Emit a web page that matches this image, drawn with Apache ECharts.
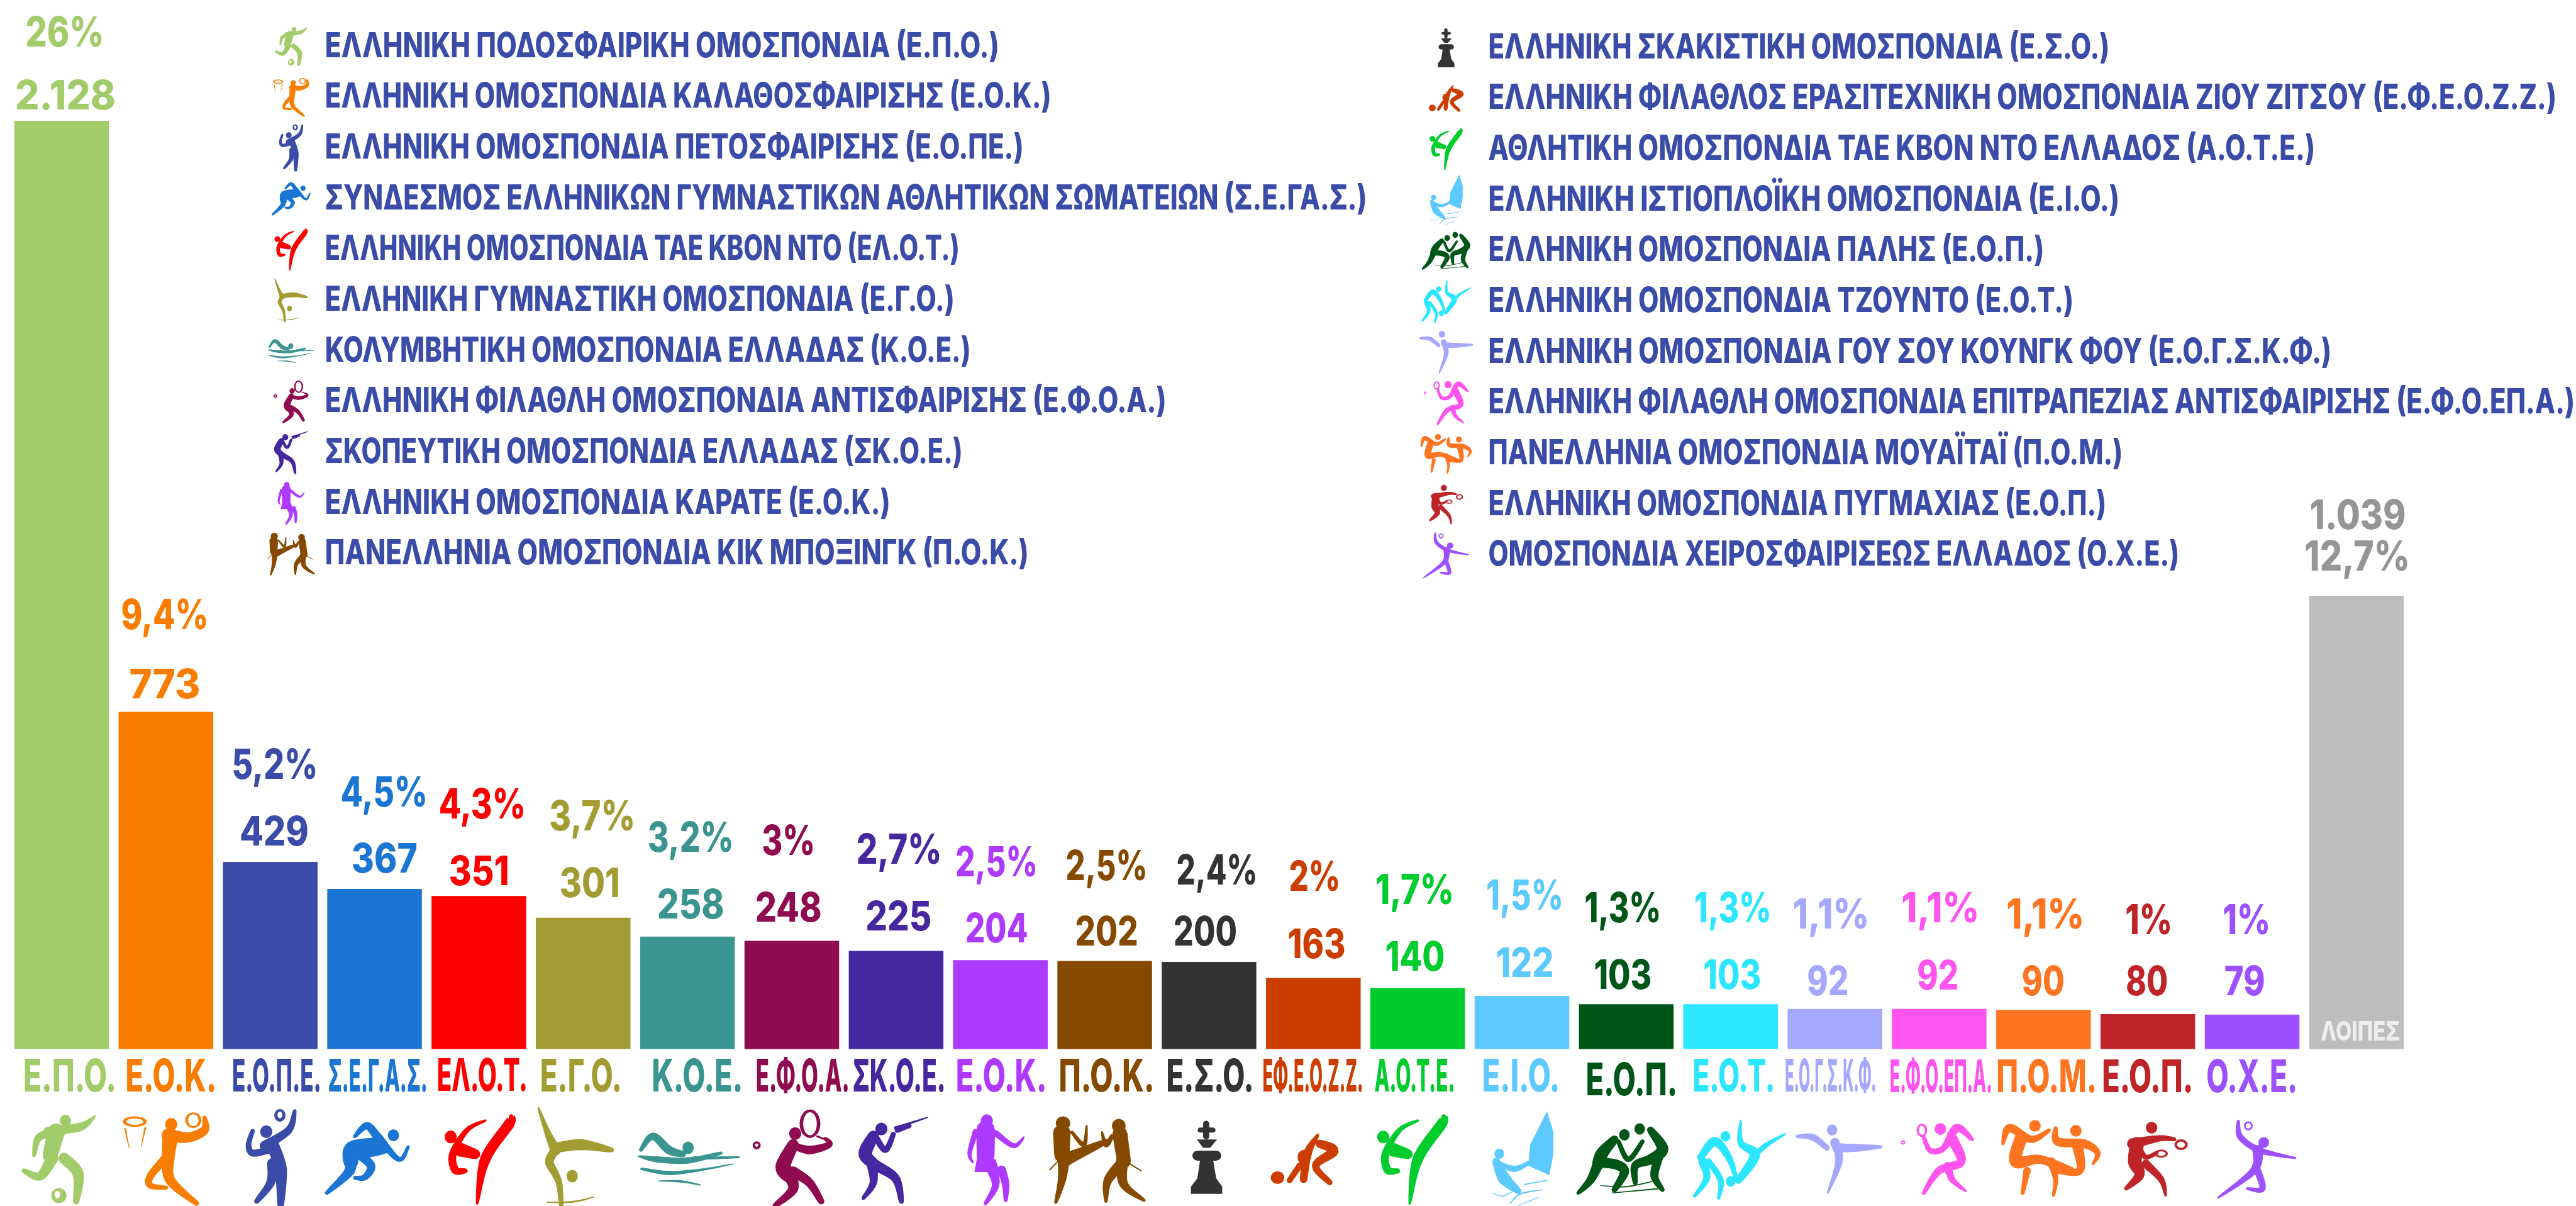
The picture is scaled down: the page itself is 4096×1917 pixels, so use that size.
<!DOCTYPE html>
<html><head><meta charset="utf-8">
<style>html,body{margin:0;padding:0;background:#fff}#c{width:4096px;height:1917px}</style>
<script src="https://cdn.jsdelivr.net/npm/echarts@6/dist/echarts.min.js"></script>
</head><body><div id="c"></div>
<script>
const categories=["Ε.Π.Ο.","Ε.Ο.Κ.","Ε.Ο.Π.Ε.","Σ.Ε.Γ.Α.Σ.","ΕΛ.Ο.Τ.","Ε.Γ.Ο.","Κ.Ο.Ε.","Ε.Φ.Ο.Α.","ΣΚ.Ο.Ε.","Ε.Ο.Κ.","Π.Ο.Κ.","Ε.Σ.Ο.","ΕΦ.Ε.Ο.Ζ.Ζ.","Α.Ο.Τ.Ε.","Ε.Ι.Ο.","Ε.Ο.Π.","Ε.Ο.Τ.","Ε.Ο.Γ.Σ.Κ.Φ.","Ε.Φ.Ο.ΕΠ.Α.","Π.Ο.Μ.","Ε.Ο.Π.","Ο.Χ.Ε.","ΛΟΙΠΕΣ"];
const valuesNum=[2128,773,429,367,351,301,258,248,225,204,202,200,163,140,122,103,103,92,92,90,80,79,1039];
const valueText=["2.128","773","429","367","351","301","258","248","225","204","202","200","163","140","122","103","103","92","92","90","80","79","1.039"];
const percentText=["26%","9,4%","5,2%","4,5%","4,3%","3,7%","3,2%","3%","2,7%","2,5%","2,5%","2,4%","2%","1,7%","1,5%","1,3%","1,3%","1,1%","1,1%","1,1%","1%","1%","12,7%"];
const colors=["#A2CB69","#F97D00","#3B4BA8","#1A76D2","#FF0000","#A29C32","#3A9490","#8F0B50","#4527A0","#AE3AFF","#854A00","#333333","#CC3D00","#00CC2E","#5CC9FF","#005518","#2CE6FF","#A5A8FF","#FF55EE","#FF7420","#BF2429","#9C50FF","#BDBDBD"];
const legendLeft=["ΕΛΛΗΝΙΚΗ ΠΟΔΟΣΦΑΙΡΙΚΗ ΟΜΟΣΠΟΝΔΙΑ (Ε.Π.Ο.)","ΕΛΛΗΝΙΚΗ ΟΜΟΣΠΟΝΔΙΑ ΚΑΛΑΘΟΣΦΑΙΡΙΣΗΣ (Ε.Ο.Κ.)","ΕΛΛΗΝΙΚΗ ΟΜΟΣΠΟΝΔΙΑ ΠΕΤΟΣΦΑΙΡΙΣΗΣ (Ε.Ο.ΠΕ.)","ΣΥΝΔΕΣΜΟΣ ΕΛΛΗΝΙΚΩΝ ΓΥΜΝΑΣΤΙΚΩΝ ΑΘΛΗΤΙΚΩΝ ΣΩΜΑΤΕΙΩΝ (Σ.Ε.ΓΑ.Σ.)","ΕΛΛΗΝΙΚΗ ΟΜΟΣΠΟΝΔΙΑ ΤΑΕ ΚΒΟΝ ΝΤΟ (ΕΛ.Ο.Τ.)","ΕΛΛΗΝΙΚΗ ΓΥΜΝΑΣΤΙΚΗ ΟΜΟΣΠΟΝΔΙΑ (Ε.Γ.Ο.)","ΚΟΛΥΜΒΗΤΙΚΗ ΟΜΟΣΠΟΝΔΙΑ ΕΛΛΑΔΑΣ (Κ.Ο.Ε.)","ΕΛΛΗΝΙΚΗ ΦΙΛΑΘΛΗ ΟΜΟΣΠΟΝΔΙΑ ΑΝΤΙΣΦΑΙΡΙΣΗΣ (Ε.Φ.Ο.Α.)","ΣΚΟΠΕΥΤΙΚΗ ΟΜΟΣΠΟΝΔΙΑ ΕΛΛΑΔΑΣ (ΣΚ.Ο.Ε.)","ΕΛΛΗΝΙΚΗ ΟΜΟΣΠΟΝΔΙΑ ΚΑΡΑΤΕ (Ε.Ο.Κ.)","ΠΑΝΕΛΛΗΝΙΑ ΟΜΟΣΠΟΝΔΙΑ ΚΙΚ ΜΠΟΞΙΝΓΚ (Π.Ο.Κ.)"];
const legendRight=["ΕΛΛΗΝΙΚΗ ΣΚΑΚΙΣΤΙΚΗ ΟΜΟΣΠΟΝΔΙΑ (Ε.Σ.Ο.)","ΕΛΛΗΝΙΚΗ ΦΙΛΑΘΛΟΣ ΕΡΑΣΙΤΕΧΝΙΚΗ ΟΜΟΣΠΟΝΔΙΑ ΖΙΟΥ ΖΙΤΣΟΥ (Ε.Φ.Ε.Ο.Ζ.Ζ.)","ΑΘΛΗΤΙΚΗ ΟΜΟΣΠΟΝΔΙΑ ΤΑΕ ΚΒΟΝ ΝΤΟ ΕΛΛΑΔΟΣ (Α.Ο.Τ.Ε.)","ΕΛΛΗΝΙΚΗ ΙΣΤΙΟΠΛΟΪΚΗ ΟΜΟΣΠΟΝΔΙΑ (Ε.Ι.Ο.)","ΕΛΛΗΝΙΚΗ ΟΜΟΣΠΟΝΔΙΑ ΠΑΛΗΣ (Ε.Ο.Π.)","ΕΛΛΗΝΙΚΗ ΟΜΟΣΠΟΝΔΙΑ ΤΖΟΥΝΤΟ (Ε.Ο.Τ.)","ΕΛΛΗΝΙΚΗ ΟΜΟΣΠΟΝΔΙΑ ΓΟΥ ΣΟΥ ΚΟΥΝΓΚ ΦΟΥ (Ε.Ο.Γ.Σ.Κ.Φ.)","ΕΛΛΗΝΙΚΗ ΦΙΛΑΘΛΗ ΟΜΟΣΠΟΝΔΙΑ ΕΠΙΤΡΑΠΕΖΙΑΣ ΑΝΤΙΣΦΑΙΡΙΣΗΣ (Ε.Φ.Ο.ΕΠ.Α.)","ΠΑΝΕΛΛΗΝΙΑ ΟΜΟΣΠΟΝΔΙΑ ΜΟΥΑΪΤΑΪ (Π.Ο.Μ.)","ΕΛΛΗΝΙΚΗ ΟΜΟΣΠΟΝΔΙΑ ΠΥΓΜΑΧΙΑΣ (Ε.Ο.Π.)","ΟΜΟΣΠΟΝΔΙΑ ΧΕΙΡΟΣΦΑΙΡΙΣΕΩΣ ΕΛΛΑΔΟΣ (Ο.Χ.Ε.)"];

// ---------- layout (reference pixels) ----------
const S=4096/4097, FONT='Inter', WEIGHT=800, PXU=0.6936, BASE=1668, PITCH=165.9, FIRST=98, TEXT_NUDGE=3;
const legendEndsL=[1589,1672,1628,2174,1526,1518,1544,1855,1531,1416,1636];
const legendEndsR=[3355,4066,3682,3371,3251,3298,3708,4095,3376,3350,3466];
const legendIconH=[62,62,75,53,67,70,38,68,68,68,68,62,42,67,81,60,68,68,70,63,63,73];
// value cx, value cy, value w, pct cx, pct cy, pct w
const labelBox=[[104,151.5,160,103,51.5,125],[262,1088,113,262,977,139],[436,1322,110,437,1215,137],[611.5,1365,105,611,1259,138],[762,1385,96,767,1278,138],[938,1404,96,942,1297,137],[1098.5,1438,107,1098.5,1331,137],[1254,1443,106,1254,1336,85],[1429,1457,105,1430,1350,136],[1585,1476,100,1585,1370,131],[1760,1481,100,1760,1376,130],[1917,1481,101,1935.5,1384,129],[2094,1501,92,2091,1394,82],[2250.5,1521,95,2250,1415,125],[2425,1531,92,2425,1424,123],[2581,1550,92,2581,1444,122],[2755,1550,92,2756,1444,123],[2907,1560,66,2912,1454,122],[3082,1551,66,3086,1444,124],[3249.5,1560,68,3253,1454,124],[3414.5,1560,67,3417.5,1463,75],[3570,1560,65,3573,1463,76],[3750,819,153,3749,884,168]];
// category label cx, cy, w
const catBox=[[111,1711,148],[272,1711,145],[440,1711,142],[601,1711,158],[767,1710,144],[924,1711,130],[1109,1711,145],[1276.5,1711,149],[1430,1711,148],[1592.5,1711,145],[1760,1711,152],[1924.5,1711,139],[2088,1711,160],[2250,1711,128],[2419,1711,124],[2595,1717,146],[2757.5,1711,131],[2911.5,1711,145],[3087,1712,163],[3255,1712,160],[3415.5,1712,145],[3581.5,1712,145],[3754,1638,126]];
const refCx=i=>FIRST+PITCH*i, refTop=v=>BASE-PXU*v;

// ---------- pictograms, traced in zoom-crop coordinates ----------
// e: ellipse  w: white ellipse  r: tapered limb (x,y,width...)  p: polygon
const A=[0,1500,1.568,3], B=[1000,1500,1.568,3], C=[2000,1500,1.568,3], D=[3000,800,1.429,1.404];
const taekwondo=[['e',1124,923,15,30],['r',1275,825,7,1270,860,17,1210,1030,17,1190,1240,4],['r',1210,845,4,1165,890,8,1130,1000,12,1135,1080,13,1160,1085,8],['r',1150,985,22,1185,1005,16]];
const icons=[
 {src:A,p:[['e',163,845,14,28],['r',120,895,14,200,875,14,238,822,2],['r',130,900,14,95,930,12,85,1010,6],['r',140,900,28,125,1010,24],['r',130,1025,20,100,1110,14,60,1085,8],['r',160,1025,18,195,1100,18,190,1230,10],['e',147,1203,19,36],['w',143,1198,7,18]]},
 {src:A,p:[['e',336,850,30,25],['w',336,850,21,15],['r',312,885,3,322,975,1],['r',362,880,3,352,970,1],['e',427,863,15,30],['e',482,843,20,37],['w',482,843,13,28],['r',510,830,6,510,890,14,470,925,16,420,915,22],['r',425,920,26,420,1020,20,425,1130,16,490,1240,8],['r',410,1030,14,375,1110,12,375,1155,10,415,1165,6]]},
 {src:A,p:[['e',664,898,15,30],['e',698,820,14,30],['w',698,818,6,16],['r',735,800,6,720,890,12,660,965,16],['r',630,895,7,620,960,9,630,1000,11,670,985,12],['r',680,960,20,700,1080,20,700,1250,10],['r',680,1050,18,675,1140,14,640,1230,8]]},
 {src:A,p:[['e',981,915,14,28],['r',885,920,6,915,870,12,945,930,14,995,1030,8,1018,970,5],['r',940,950,16,880,980,26,875,1040,24],['r',872,1030,22,870,1090,16,815,1190,6],['r',890,1000,14,925,1060,14,910,1115,10,885,1118,6],['r',880,1000,26,960,985,12]]},
 {src:A,p:taekwondo},
 {src:A,p:[['r',1343,785,3,1365,900,10,1385,985,18],['r',1385,975,16,1450,960,18,1525,985,8],['r',1385,985,14,1370,1040,14,1385,1100,12,1395,1150,10,1400,1250,7],['e',1427,1110,14,30],['r',1365,1235,2,1430,1232,3,1480,1210,2]]},
 {src:B,p:[['e',148,975,14,30],['r',30,985,6,60,920,12,100,985,14,135,1005,10],['r',25,1015,3,70,1030,10,150,1035,10,230,1000,5],['r',160,1025,6,275,1020,3],['r',32,1075,4,100,1095,7,180,1080,4,260,1052,1.5],['r',75,1133,1.5,130,1135,4,178,1152,2]]},
 {src:B,p:[['e',319,963,10,19],['w',319,962,4,8],['e',452,860,26,68],['w',452,860,17,55],['r',470,920,3,490,935,3],['e',415,907,15,30],['r',410,960,18,385,1060,24,395,1100,24],['r',405,960,10,450,985,14,500,960,10,490,930,5],['r',395,1090,22,410,1170,16,365,1250,8],['r',410,1090,18,450,1140,14,480,1230,10]]},
 {src:B,p:[['e',630,885,15,30],['r',665,880,5,745,830,2],['r',670,890,9,700,870,7],['r',610,920,18,590,1000,22,610,1050,18,665,1120,14,680,1230,8],['r',605,1040,18,610,1140,12,585,1215,6],['r',615,920,10,640,985,10,660,910,8]]},
 {src:B,p:[['e',893,847,15,32],['r',890,890,30,890,1020,28],['r',865,900,10,850,1000,7,858,1045,3],['r',915,905,10,960,965,8,985,925,3],['p',868,1030,915,1030,925,1090,862,1090],['r',900,1050,20,915,1150,12,890,1240,6],['r',930,1080,14,940,1150,12,940,1225,6]]},
 {src:B,p:[['e',1083,858,18,33],['e',1222,870,17,33],['r',1080,905,28,1080,1010,24],['r',1105,900,5,1135,960,8,1142,870,3],['r',1090,1030,22,1190,945,8],['r',1085,1030,20,1080,1130,13,1065,1235,5],['r',1225,910,24,1235,1040,22],['r',1235,1040,20,1195,1130,14,1190,1230,5],['r',1230,1040,20,1235,1150,14,1285,1225,5],['r',1205,920,7,1190,960,9,1180,900,3],['r',1075,1030,2,1050,1080,2],['r',1240,1040,2,1278,1085,2]]},
 {src:B,p:[['r',1440,860,10,1440,920,10],['r',1425,890,8,1457,890,8],['p',1417,935,1467,935,1450,975,1432,975],['r',1418,1012,16,1465,1012,16],['p',1425,1030,1457,1030,1465,1120,1480,1160,1480,1195,1402,1195,1402,1160,1418,1120]]},
 {src:C,p:[['e',50,1117,17,30],['r',150,915,5,125,1000,14,115,1125,12],['r',155,955,13,190,990,16,145,1060,12,180,1140,9],['e',115,1020,15,35],['r',105,1060,10,80,1130,9]]},
 {src:[PITCH*9,1500,1.568,3,-10],p:taekwondo},
 {src:C,p:[['p',722,800,738,900,738,1000,728,1105,675,1060,680,960],['e',603,1003,12,24],['r',595,1040,12,615,1120,20,650,1180,10],['r',595,1045,8,640,1075,10,678,1045,6],['r',665,1150,2,722,1130,1.5],['r',630,1240,1.5,655,1195,2.5,710,1175,1.5],['r',585,1190,1,610,1205,1.5,635,1185,1],['r',650,1250,1,700,1212,1.5]]},
 {src:C,p:[['e',915,913,13,27],['e',953,885,13,27],['r',890,935,13,860,1000,20,850,1050,20],['r',850,1045,16,895,1055,16,915,1090,15,890,1175,9],['r',850,1050,18,830,1130,13,800,1190,6],['r',980,890,11,1010,980,19,980,1030,16,942,1060,13,942,1140,8],['r',1000,1020,15,990,1110,13,1010,1175,7],['r',900,945,7,925,1030,9,960,945,7],['r',855,1155,1,920,1160,2,985,1135,1.5],['r',885,1190,1.5,1000,1170,2]]},
 {src:C,p:[['e',1167,920,12,25],['e',1180,1135,12,25],['r',1105,1020,11,1140,945,15,1175,1020,11,1195,1130,6],['r',1110,1040,14,1120,1120,11,1090,1205,5],['r',1125,1040,10,1155,1130,10,1150,1215,5],['r',1205,845,3,1205,950,10,1240,1010,17,1200,1130,11],['r',1240,1010,10,1270,960,8,1315,910,3]]},
 {src:C,p:[['e',1433,890,13,26],['r',1345,920,5,1385,925,11,1420,975,9],['r',1440,950,15,1450,1040,12,1422,1190,3],['r',1450,975,15,1500,975,12,1555,970,5]]},
 {src:D,p:[['e',38,1427,5,5],['w',38,1427,2,2],['e',81,1400,12,15],['w',81,1400,7,10],['e',123,1397,13,13],['r',85,1415,6,100,1445,9,130,1440,10,160,1395,14,195,1420,6],['r',150,1420,18,170,1470,14,120,1490,12,85,1540,6],['r',140,1480,14,150,1510,10,180,1535,4]]},
 {src:D,p:[['e',338,1390,13,13],['e',431,1401,13,13],['r',265,1430,5,280,1395,14,330,1420,12,370,1400,6],['r',305,1420,20,295,1470,20,350,1465,14,420,1490,12],['r',320,1490,12,310,1540,6],['r',375,1470,14,385,1510,8,380,1545,5],['r',385,1395,6,390,1425,14,450,1430,14,480,1450,10,470,1475,4],['r',435,1435,18,440,1490,12,390,1490,10]]},
 {src:D,p:[['e',603,1394,13,13],['r',560,1430,18,620,1418,10,655,1420,6],['e',670,1432,15,12],['w',670,1432,9,7],['e',625,1452,15,9],['w',625,1452,10,5],['r',570,1430,22,565,1470,22,575,1500,16,545,1530,6],['r',590,1475,14,625,1510,10,635,1545,4],['r',575,1440,10,590,1460,8,615,1450,6]]},
 {src:D,p:[['e',823,1390,10,10],['w',823,1390,6,6],['e',858,1427,12,12],['r',800,1380,5,805,1415,10,850,1445,10,930,1462,3],['r',845,1445,18,835,1490,12,755,1550,3],['r',840,1480,12,855,1530,10,820,1530,4]]}
];
function ellipsePts(cx,cy,rx,ry){const o=[];for(let t=0;t<24;t++){const a=t/24*Math.PI*2;o.push([cx+rx*Math.cos(a),cy+ry*Math.sin(a)]);}return o;}
function ribbonPts(pts){
  const n=pts.length,s=[];
  const at=k=>pts[Math.max(0,Math.min(n-1,k))];
  for(let i=0;i<n-1;i++){const a=at(i-1),b=at(i),c=at(i+1),d=at(i+2);
    for(let j=0;j<10;j++){const t=j/10,t2=t*t,t3=t2*t;
      const f=q=>0.5*(2*b[q]+(c[q]-a[q])*t+(2*a[q]-5*b[q]+4*c[q]-d[q])*t2+(3*b[q]-a[q]-3*c[q]+d[q])*t3);
      s.push([f(0),f(1),b[2]+(c[2]-b[2])*t]);}}
  s.push(pts[n-1].slice());
  const L=[],R=[];
  s.forEach((p,i)=>{const a=s[Math.max(0,i-1)],b=s[Math.min(s.length-1,i+1)];let dx=b[0]-a[0],dy=b[1]-a[1];const l=Math.hypot(dx,dy)||1;dx/=l;dy/=l;const h=p[2]/2;L.push([p[0]-dy*h,p[1]+dx*h]);R.push([p[0]+dy*h,p[1]-dx*h]);});
  const cap=(p,from,out)=>{const c=[];const a0=Math.atan2(from[1]-p[1],from[0]-p[0]);const r=p[2]/2;for(let k=1;k<6;k++){const a=a0+out*k/6*Math.PI;c.push([p[0]+r*Math.cos(a),p[1]+r*Math.sin(a)]);}return c;};
  const e=s[s.length-1],b0=s[0],endL=L[L.length-1],startR=R[0];
  return L.concat(cap(e,endL,-1),R.slice().reverse(),cap(b0,startR,-1));
}
// Convert every part to reference pixels relative to the bar centre
icons.forEach((ic,idx)=>{
  const [x0,y0,sx,sy,shift]=ic.src, cx=refCx(idx);
  const X=x=>x0+x/sx-cx+(shift||0), Y=y=>y0+y/sy;
  ic.shapes=ic.p.map(q=>{
    const k=q[0];
    if(k==='e'||k==='w'){return {white:k==='w',pts:ellipsePts(X(q[1]),Y(q[2]),q[3]/sx,q[4]/sy)};}
    if(k==='p'){const o=[];for(let i=1;i<q.length;i+=2)o.push([X(q[i]),Y(q[i+1])]);return {pts:o};}
    const o=[];for(let i=1;i<q.length;i+=3)o.push([X(q[i]),Y(q[i+1]),q[i+2]]);return {pts:ribbonPts(o)};
  });
  let a=1e9,b=-1e9,c=1e9,d=-1e9;ic.shapes.forEach(s=>s.pts.forEach(p=>{a=Math.min(a,p[0]);b=Math.max(b,p[0]);c=Math.min(c,p[1]);d=Math.max(d,p[1]);}));
  ic.box=[a,b,c,d];
});
function iconEls(ic,color,fn){return ic.shapes.map(s=>({type:'polygon',silent:true,shape:{points:s.pts.map(fn)},style:{fill:s.white?'#fff':color}}));}

// text fitted to a target width through a horizontal scale
const ctx=document.createElement('canvas').getContext('2d');
function fit(text,size,w){ctx.font=WEIGHT+' '+size+'px '+FONT;return w/ctx.measureText(text).width;}
function textEl(text,x,y,size,w,color,align){
  return {type:'text',silent:true,x:x,y:y+TEXT_NUDGE,scaleX:fit(text,size*S,w*S),style:{text:text,fontFamily:FONT,fontWeight:WEIGHT,fontSize:size*S,fill:color,align:align||'center',verticalAlign:'middle'}};
}

function renderItem(params,api){
  const i=api.value(0),v=api.value(1),top=api.coord([i,v]),base=api.coord([i,0]);
  const cx=top[0],rc=refCx(i),rt=refTop(v),b=labelBox[i],col=colors[i];
  const lc=i===22?'#959595':col;
  const kids=[
    textEl(valueText[i],cx+(b[0]-rc)*S,top[1]+(b[1]-rt)*S,65,b[2],lc),
    textEl(percentText[i],cx+(b[3]-rc)*S,top[1]+(b[4]-rt)*S,66,b[5],lc)
  ];
  const cb=catBox[i];
  kids.push(i===22?textEl(categories[i],cx+(cb[0]-rc)*S,base[1]+(cb[1]-BASE)*S,43,cb[2],'#EEEEEE')
                  :textEl(categories[i],cx+(cb[0]-rc)*S,base[1]+(cb[1]-BASE)*S,72,cb[2],col));
  if(icons[i]) iconEls(icons[i],col,p=>[cx+p[0]*S,base[1]+(p[1]-BASE)*S]).forEach(e=>kids.push(e));
  return {type:'group',children:kids};
}

function legendEls(){
  const out=[];
  const row=(names,ends,x0,y0,iconCx,start)=>names.forEach((t,r)=>{
    const y=y0+80.7*r,ic=icons[start+r],col=colors[start+r];
    const [a,b,c,d]=ic.box,k=legendIconH[start+r]/(d-c),mx=(a+b)/2,my=(c+d)/2;
    iconEls(ic,col,p=>[(iconCx+(p[0]-mx)*k)*S,(y+3+(p[1]-my)*k)*S]).forEach(e=>out.push(e));
    out.push(textEl(t,x0*S,y*S,55,ends[r]-x0,'#3B4BA8','left'));
  });
  row(legendLeft,legendEndsL,517,71,463,0);
  row(legendRight,legendEndsR,2367,73,2300,11);
  return out;
}

const chart=echarts.init(document.getElementById('c'),null,{renderer:'canvas',width:4096,height:1917});
chart.setOption({
  animation:false,backgroundColor:'#fff',
  grid:{left:(FIRST-PITCH/2)*S,width:PITCH*23*S,top:0,height:BASE*S,containLabel:false},
  xAxis:{type:'category',data:categories,axisLine:{show:false},axisTick:{show:false},axisLabel:{show:false},splitLine:{show:false}},
  yAxis:{type:'value',min:0,max:BASE/PXU,show:false,splitLine:{show:false}},
  series:[
    {type:'bar',z:2,barWidth:150.5*S,data:valuesNum.map((v,i)=>({value:v,itemStyle:{color:colors[i]}})),silent:true},
    {type:'custom',z:6,clip:false,silent:true,renderItem:renderItem,encode:{x:0,y:1},data:valuesNum.map((v,i)=>[i,v])}
  ],
  graphic:{elements:[{type:'group',silent:true,children:legendEls()}]}
});
</script></body></html>
